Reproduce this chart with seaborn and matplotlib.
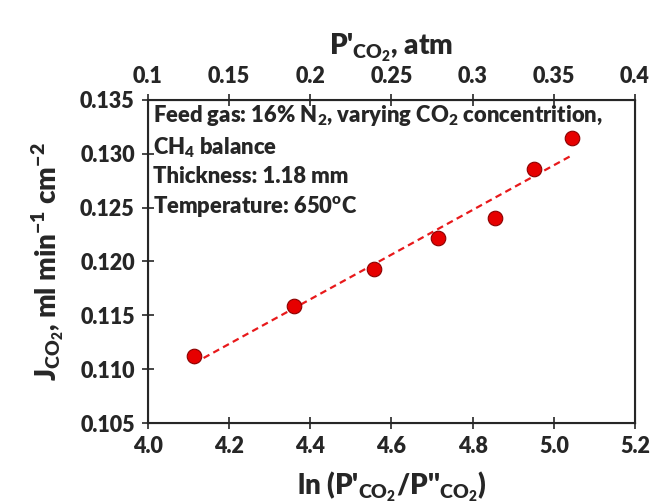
import numpy as np
import matplotlib
matplotlib.use('Agg')
import matplotlib.pyplot as plt
import seaborn as sns
import pandas as pd

# data
ln_ratio = [4.113, 4.359, 4.557, 4.715, 4.856, 4.951, 5.046]
j_co2 = [0.1112, 0.1159, 0.1193, 0.1222, 0.1240, 0.1286, 0.1315]
bottom_ticks = [4.0, 4.2, 4.4, 4.6, 4.8, 5.0, 5.2]
top_ticks = [0.1, 0.15, 0.2, 0.25, 0.3, 0.35, 0.4]
y_ticks = [0.105, 0.110, 0.115, 0.120, 0.125, 0.130, 0.135]

df = pd.DataFrame({'x': ln_ratio, 'y': j_co2})

sns.set_style('ticks')
plt.rcParams['font.family'] = ['Lato', 'DejaVu Sans']
plt.rcParams['font.weight'] = 'heavy'
plt.rcParams['axes.labelweight'] = 'heavy'
plt.rcParams['mathtext.fontset'] = 'custom'
plt.rcParams['mathtext.rm'] = 'Lato:heavy'
plt.rcParams['mathtext.it'] = 'Lato:heavy'
plt.rcParams['mathtext.bf'] = 'Lato:heavy'
plt.rcParams['mathtext.default'] = 'rm'

fig = plt.figure(figsize=(6.51, 5.04), dpi=100)
ax = fig.add_axes([0.2273, 0.1607, 0.7481, 0.641])

# linear fit
k, b = np.polyfit(df['x'], df['y'], 1)
xs = np.array([df['x'].min(), df['x'].max()])
ax.plot(xs, k * xs + b, ls=(0, (3, 2)), color='#e8191b', lw=1.6, zorder=2)

sns.scatterplot(data=df, x='x', y='y', ax=ax, color='#e60000', s=110,
                edgecolor='#8a0000', linewidth=0.8, zorder=3)

ax.set_xlim(4.0, 5.2)
ax.set_ylim(0.105, 0.135)
ax.set_xticks(bottom_ticks)
ax.set_xticklabels([f'{t:.1f}' for t in bottom_ticks])
ax.set_yticks(y_ticks)
ax.set_yticklabels([f'{t:.3f}' for t in y_ticks])
ax.tick_params(direction='inout', length=9, width=1.2, labelsize=15.5, pad=5)
ax.set_xlabel("ln (P'$_{CO_2}$/P''$_{CO_2}$)", fontsize=20, labelpad=9)
ax.set_ylabel("J$_{CO_2}$, ml min$^{-1}$ cm$^{-2}$", fontsize=20, labelpad=10)
for sp in ax.spines.values():
    sp.set_linewidth(1.5)
    sp.set_visible(True)

top = ax.twiny()
top.set_xlim(0.1, 0.4)
top.set_xticks(top_ticks)
top.set_xticklabels([f'{t:g}' for t in top_ticks])
top.tick_params(direction='inout', length=9, width=1.2, labelsize=15.5, pad=5)
top.set_xlabel("P'$_{CO_2}$, atm", fontsize=20, labelpad=8)

ax.text(0.01, 0.99,
        "Feed gas: 16% N$_2$, varying CO$_2$ concentrition,\n"
        "CH$_4$ balance\nThickness: 1.18 mm\nTemperature: 650$^o$C",
        transform=ax.transAxes, ha='left', va='top', fontsize=15.8,
        linespacing=1.36)

fig.savefig('out.png', dpi=100)
